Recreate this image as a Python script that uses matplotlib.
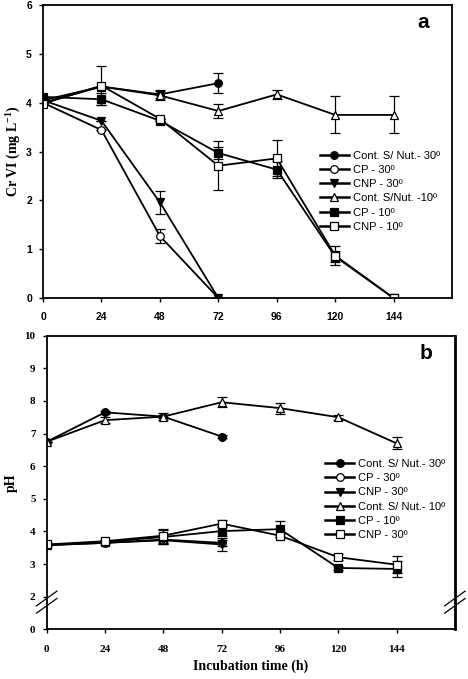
import numpy as np
import matplotlib
matplotlib.use('Agg')
import matplotlib.pyplot as plt
from matplotlib.lines import Line2D

plt.rcParams['font.family'] = ['Liberation Serif', 'DejaVu Sans']
plt.rcParams['mathtext.fontset'] = 'custom'
plt.rcParams['mathtext.rm'] = 'Liberation Serif'
plt.rcParams['mathtext.bf'] = 'Liberation Serif:bold'

# ---- data ----
hours = [0, 24, 48, 72, 96, 120, 144]
hours_30 = [0, 24, 48, 72]
xticks = [0, 24, 48, 72, 96, 120, 144]

# panel a: Cr VI (mg/L)
cr_cont30 = [4.05, 4.33, 4.17, 4.40]
cr_cont30_err = [0, 0, 0.08, 0.20]
cr_cp30 = [4.00, 3.44, 1.27, 0.0]
cr_cp30_err = [0, 0, 0.15, 0]
cr_cnp30 = [4.05, 3.63, 1.96, 0.0]
cr_cnp30_err = [0, 0, 0.24, 0]
cr_cont10 = [4.00, 4.33, 4.15, 3.83, 4.17, 3.75, 3.75]
cr_cont10_err = [0, 0, 0.09, 0.15, 0.10, 0.38, 0.38]
cr_cp10 = [4.12, 4.07, 3.63, 2.97, 2.63, 0.85, 0.0]
cr_cp10_err = [0, 0.12, 0, 0.12, 0.18, 0.12, 0]
cr_cnp10 = [3.98, 4.35, 3.67, 2.71, 2.86, 0.87, 0.0]
cr_cnp10_err = [0, 0.40, 0, 0.50, 0.37, 0.20, 0]

labels_a = ['Cont. S/ Nut.- 30º', 'CP - 30º', 'CNP - 30º',
            'Cont. S/Nut. -10º', 'CP - 10º', 'CNP - 10º']

# panel b: pH
ph_cont30 = [6.75, 7.65, 7.52, 6.91]
ph_cont30_err = [0, 0.04, 0.04, 0.04]
ph_cp30 = [3.58, 3.65, 3.75, 3.65]
ph_cp30_err = [0, 0, 0.10, 0.10]
ph_cnp30 = [3.58, 3.65, 3.73, 3.60]
ph_cnp30_err = [0, 0, 0.12, 0.20]
ph_cont10 = [6.75, 7.41, 7.52, 7.96, 7.78, 7.50, 6.70]
ph_cont10_err = [0, 0.10, 0.10, 0.15, 0.17, 0.07, 0.18]
ph_cp10 = [3.58, 3.68, 3.83, 4.01, 4.07, 2.88, 2.85]
ph_cp10_err = [0, 0, 0.20, 0.15, 0.25, 0.05, 0.25]
ph_cnp10 = [3.60, 3.70, 3.87, 4.24, 3.87, 3.21, 2.98]
ph_cnp10_err = [0, 0.05, 0.20, 0.10, 0.05, 0.10, 0.26]

labels_b = ['Cont. S/ Nut.- 30º', 'CP - 30º', 'CNP - 30º',
            'Cont. S/ Nut.- 10º', 'CP - 10º', 'CNP - 30º']

ph_ticks = [1, 2, 3, 4, 5, 6, 7, 8, 9, 10]
ph_ticklabels = ['0', '2', '3', '4', '5', '6', '7', '8', '9', '10']

# marker, facecolor for the 6 series
styles = [('o', 'black'), ('o', 'white'), ('v', 'black'),
          ('^', 'white'), ('s', 'black'), ('s', 'white')]

fig = plt.figure(figsize=(4.68, 6.79), dpi=100)
ax1 = fig.add_axes([0.092, 0.561, 0.874, 0.4316])
ax2 = fig.add_axes([0.0998, 0.0732, 0.8722, 0.4324])


def draw(ax, series, labels, anchor):
    handles = []
    for (x, y, e), (m, fc), lab in zip(series, styles, labels):
        ax.errorbar(x, y, yerr=e, color='black', lw=1.3, marker=m, ms=5.5,
                    mfc=fc, mec='black', mew=0.9, capsize=3.5,
                    elinewidth=0.9, capthick=0.9)
        handles.append(Line2D([], [], color='black', lw=1.8, marker=m, ms=5.5,
                              mfc=fc, mec='black', mew=0.9, label=lab))
    ax.legend(handles=handles, loc='upper left', bbox_to_anchor=anchor,
              frameon=False, prop={'family': 'Liberation Sans', 'size': 8},
              handlelength=2.6, handletextpad=0.4, labelspacing=0.38,
              borderpad=0, borderaxespad=0)


draw(ax1, [(hours_30, cr_cont30, cr_cont30_err),
           (hours_30, cr_cp30, cr_cp30_err),
           (hours_30, cr_cnp30, cr_cnp30_err),
           (hours, cr_cont10, cr_cont10_err),
           (hours, cr_cp10, cr_cp10_err),
           (hours, cr_cnp10, cr_cnp10_err)], labels_a, (0.677, 0.503))

draw(ax2, [(hours_30, ph_cont30, ph_cont30_err),
           (hours_30, ph_cp30, ph_cp30_err),
           (hours_30, ph_cnp30, ph_cnp30_err),
           (hours, ph_cont10, ph_cont10_err),
           (hours, ph_cp10, ph_cp10_err),
           (hours, ph_cnp10, ph_cnp10_err)], labels_b, (0.682, 0.58))

# panel a axes
ax1.set_xlim(0, 168)
ax1.set_ylim(0, 6)
ax1.set_xticks(xticks)
ax1.set_yticks(range(0, 7))
for lab in ax1.get_xticklabels() + ax1.get_yticklabels():
    lab.set_family('Liberation Sans')
    lab.set_weight('bold')
    lab.set_fontsize(7.5)
ax1.set_ylabel('Cr VI (mg L$^{\\mathbf{-1}}$)', fontsize=10, fontweight='bold', labelpad=3)
ax1.text(0.93, 0.94, 'a', transform=ax1.transAxes, fontsize=15, fontweight='bold',
         family='Liberation Sans', ha='center', va='center')

# panel b axes
ax2.set_xlim(0, 168)
ax2.set_ylim(1, 10)
ax2.set_xticks(xticks)
ax2.set_yticks(ph_ticks)
ax2.set_yticklabels(ph_ticklabels)
for lab in ax2.get_xticklabels() + ax2.get_yticklabels():
    lab.set_weight('bold')
    lab.set_fontsize(8)
ax2.set_ylabel('pH', fontsize=10, fontweight='bold', labelpad=5)
ax2.set_xlabel('Incubation time (h)', fontsize=10, fontweight='bold', labelpad=4)
ax2.text(0.93, 0.94, 'b', transform=ax2.transAxes, fontsize=15, fontweight='bold',
         family='Liberation Sans', ha='center', va='center')

for ax in (ax1, ax2):
    for s in ax.spines.values():
        s.set_linewidth(1.3)
    ax.tick_params(direction='out', length=3, width=1)
ax1.tick_params(axis='x', pad=7)
ax1.tick_params(axis='y', pad=5)
ax2.tick_params(axis='x', pad=8)
ax2.tick_params(axis='y', pad=5)
ax2.spines['right'].set_linewidth(2)

# axis break marks on panel b
for xa in (0.0, 1.0):
    for dy in (0.0, 0.025):
        ax2.add_line(Line2D([xa - 0.025, xa + 0.025], [0.055 + dy, 0.105 + dy],
                            transform=ax2.transAxes, color='black', lw=0.9,
                            clip_on=False))

fig.savefig('out.png', dpi=100)
